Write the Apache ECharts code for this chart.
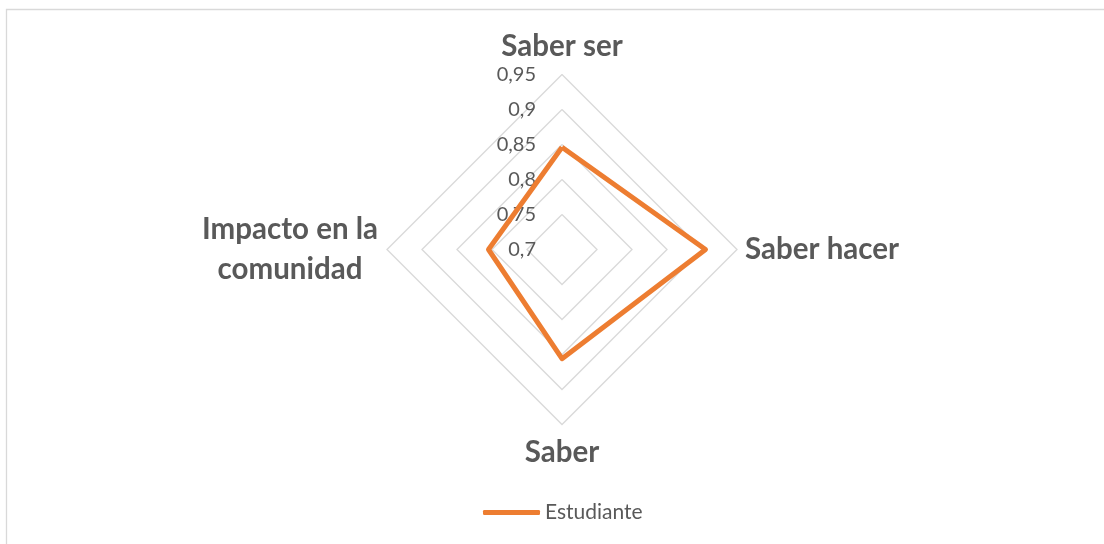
<!DOCTYPE html>
<html>
<head>
<meta charset="utf-8">
<script src="https://cdn.jsdelivr.net/npm/echarts@6/dist/echarts.min.js"></script>
<style>
  html, body { margin: 0; padding: 0; background: #ffffff; }
  #chart { width: 1104px; height: 544px; }
</style>
</head>
<body>
<div id="chart"></div>
<script>
// Dimensions, listed in the order the radar places them (counter-clockwise from the top)
const categories = ['Saber ser', 'Impacto en la\ncomunidad', 'Saber', 'Saber hacer'];
const estudiante = [0.846, 0.805, 0.856, 0.905];
const seriesName = 'Estudiante';
const scaleMin = 0.7;
const scaleMax = 0.95;
const scaleStep = 0.05;

const textColor = '#595959';
const gridColor = '#d9d9d9';
const lineColor = '#ED7D31';
const center = [562, 249.5];
const radius = 175;

const fmt = v => String(+v.toFixed(2)).replace('.', ',');

const nameFont = {
  fontFamily: 'Lato',
  fontWeight: 'bold',
  fontSize: 29.5,
  color: textColor,
  lineHeight: 40
};

const chart = echarts.init(document.getElementById('chart'), null, { renderer: 'canvas' });

chart.setOption({
  backgroundColor: '#ffffff',
  animation: false,
  graphic: [{
    type: 'rect',
    shape: { x: 6.5, y: 9.5, width: 1200, height: 700 },
    style: { fill: 'none', stroke: gridColor, lineWidth: 1.3 },
    silent: true
  }],
  legend: {
    left: 483,
    top: 502,
    padding: 0,
    itemWidth: 57,
    itemHeight: 5,
    data: [{ name: seriesName, icon: 'roundRect' }],
    textStyle: { fontFamily: 'Lato', fontSize: 21, color: textColor }
  },
  radar: {
    center: center,
    radius: radius,
    startAngle: 90,
    shape: 'polygon',
    splitNumber: Math.round((scaleMax - scaleMin) / scaleStep),
    indicator: categories.map(name => ({ name: name, min: scaleMin, max: scaleMax })),
    axisName: {
      // multi-line names are centred line by line inside a fixed-width box
      formatter: function (name) {
        const lines = name.split('\n');
        const tag = lines.length > 1 ? 'w' : 'n';
        return lines.map(s => '{' + tag + '|' + s + '}').join('\n');
      },
      rich: {
        n: Object.assign({}, nameFont),
        w: Object.assign({}, nameFont, { width: 178, align: 'center' })
      }
    },
    nameGap: 8,
    axisLine: { show: false },
    axisTick: { show: false },
    axisLabel: { show: false },
    splitArea: { show: false },
    splitLine: { lineStyle: { color: gridColor, width: 1.3 } }
  },
  // Polar overlay used only to print the value scale along the upper spoke
  polar: { center: center, radius: radius },
  angleAxis: { show: false, startAngle: 90, min: 0, max: 360 },
  radiusAxis: {
    min: scaleMin,
    max: scaleMax,
    interval: scaleStep,
    axisLine: { show: false },
    axisTick: { show: false },
    splitLine: { show: false },
    axisLabel: {
      margin: 26,
      fontFamily: 'Lato',
      fontSize: 20,
      color: textColor,
      formatter: fmt
    }
  },
  series: [{
    type: 'radar',
    name: seriesName,
    symbol: 'none',
    lineStyle: { color: lineColor, width: 5 },
    itemStyle: { color: lineColor },
    data: [{ value: estudiante, name: seriesName }]
  }]
});
</script>
</body>
</html>
